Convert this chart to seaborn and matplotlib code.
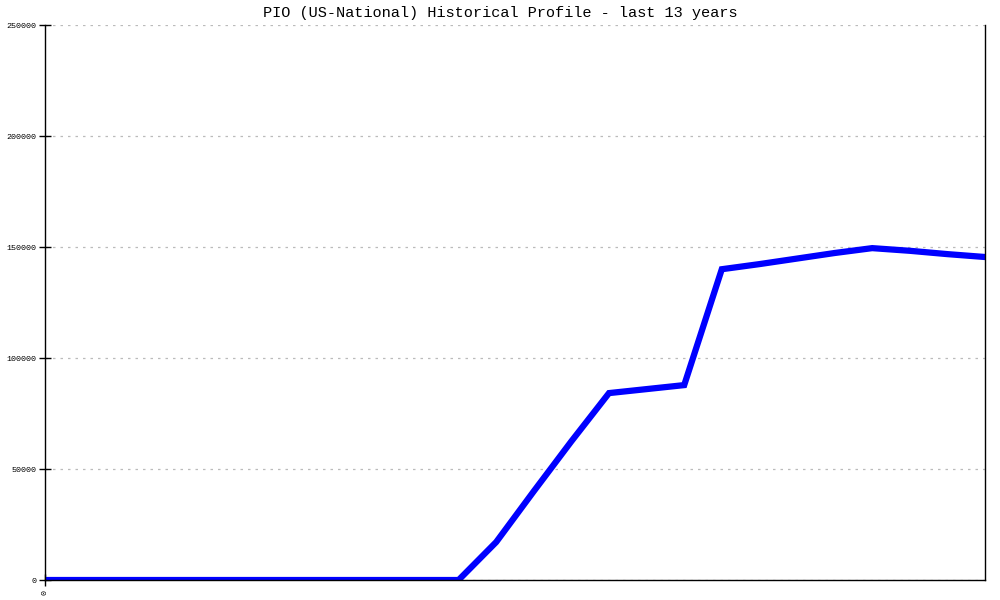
import matplotlib
matplotlib.use("Agg")
import matplotlib.pyplot as plt
import seaborn as sns
import pandas as pd

# Semi-annual observations over the last 13 years (26 points)
period = list(range(26))
values = [0, 0, 0, 0, 0, 0, 0, 0, 0, 0, 0, 0,
          17100, 40000, 62500, 84200, 86000, 87800,
          140000, 142300, 144800, 147300, 149500, 148300, 146800, 145500]
y_ticks = [0, 50000, 100000, 150000, 200000, 250000]
title = "PIO (US-National) Historical Profile - last 13 years"

df = pd.DataFrame({"period": period, "value": values})

sns.set_style("white")
plt.rcParams["font.family"] = ["Liberation Mono", "DejaVu Sans Mono"]

fig = plt.figure(figsize=(10, 6), dpi=100)
ax = fig.add_axes([0.045, 0.0333, 0.94, 0.925])

sns.lineplot(data=df, x="period", y="value", ax=ax, color="#0000ff",
             linewidth=4.5, solid_joinstyle="miter")

ax.set_xlim(0, 25)
ax.set_ylim(0, 250000)
ax.set_yticks(y_ticks)
ax.set_yticklabels([str(v) for v in y_ticks], fontsize=6, color="black")
ax.set_xticks([0])
ax.set_xticklabels(["0"], rotation=90, fontsize=6, color="black")
ax.yaxis.grid(True, linestyle=(0, (2, 4)), color="#bbbbbb", linewidth=0.9)
ax.xaxis.grid(False)
ax.set_xlabel("")
ax.set_ylabel("")
ax.tick_params(axis="y", left=True, direction="inout", length=8, width=1,
               pad=2, colors="black")
ax.tick_params(axis="x", bottom=True, direction="inout", length=8, width=1,
               pad=3, colors="black")

for side in ["left", "right", "bottom"]:
    ax.spines[side].set_visible(True)
    ax.spines[side].set_color("black")
    ax.spines[side].set_linewidth(1)
ax.spines["top"].set_visible(False)

fig.text(0.5, 0.978, title, ha="center", va="center", fontsize=11,
         color="black")

fig.savefig("out.png", dpi=100)
